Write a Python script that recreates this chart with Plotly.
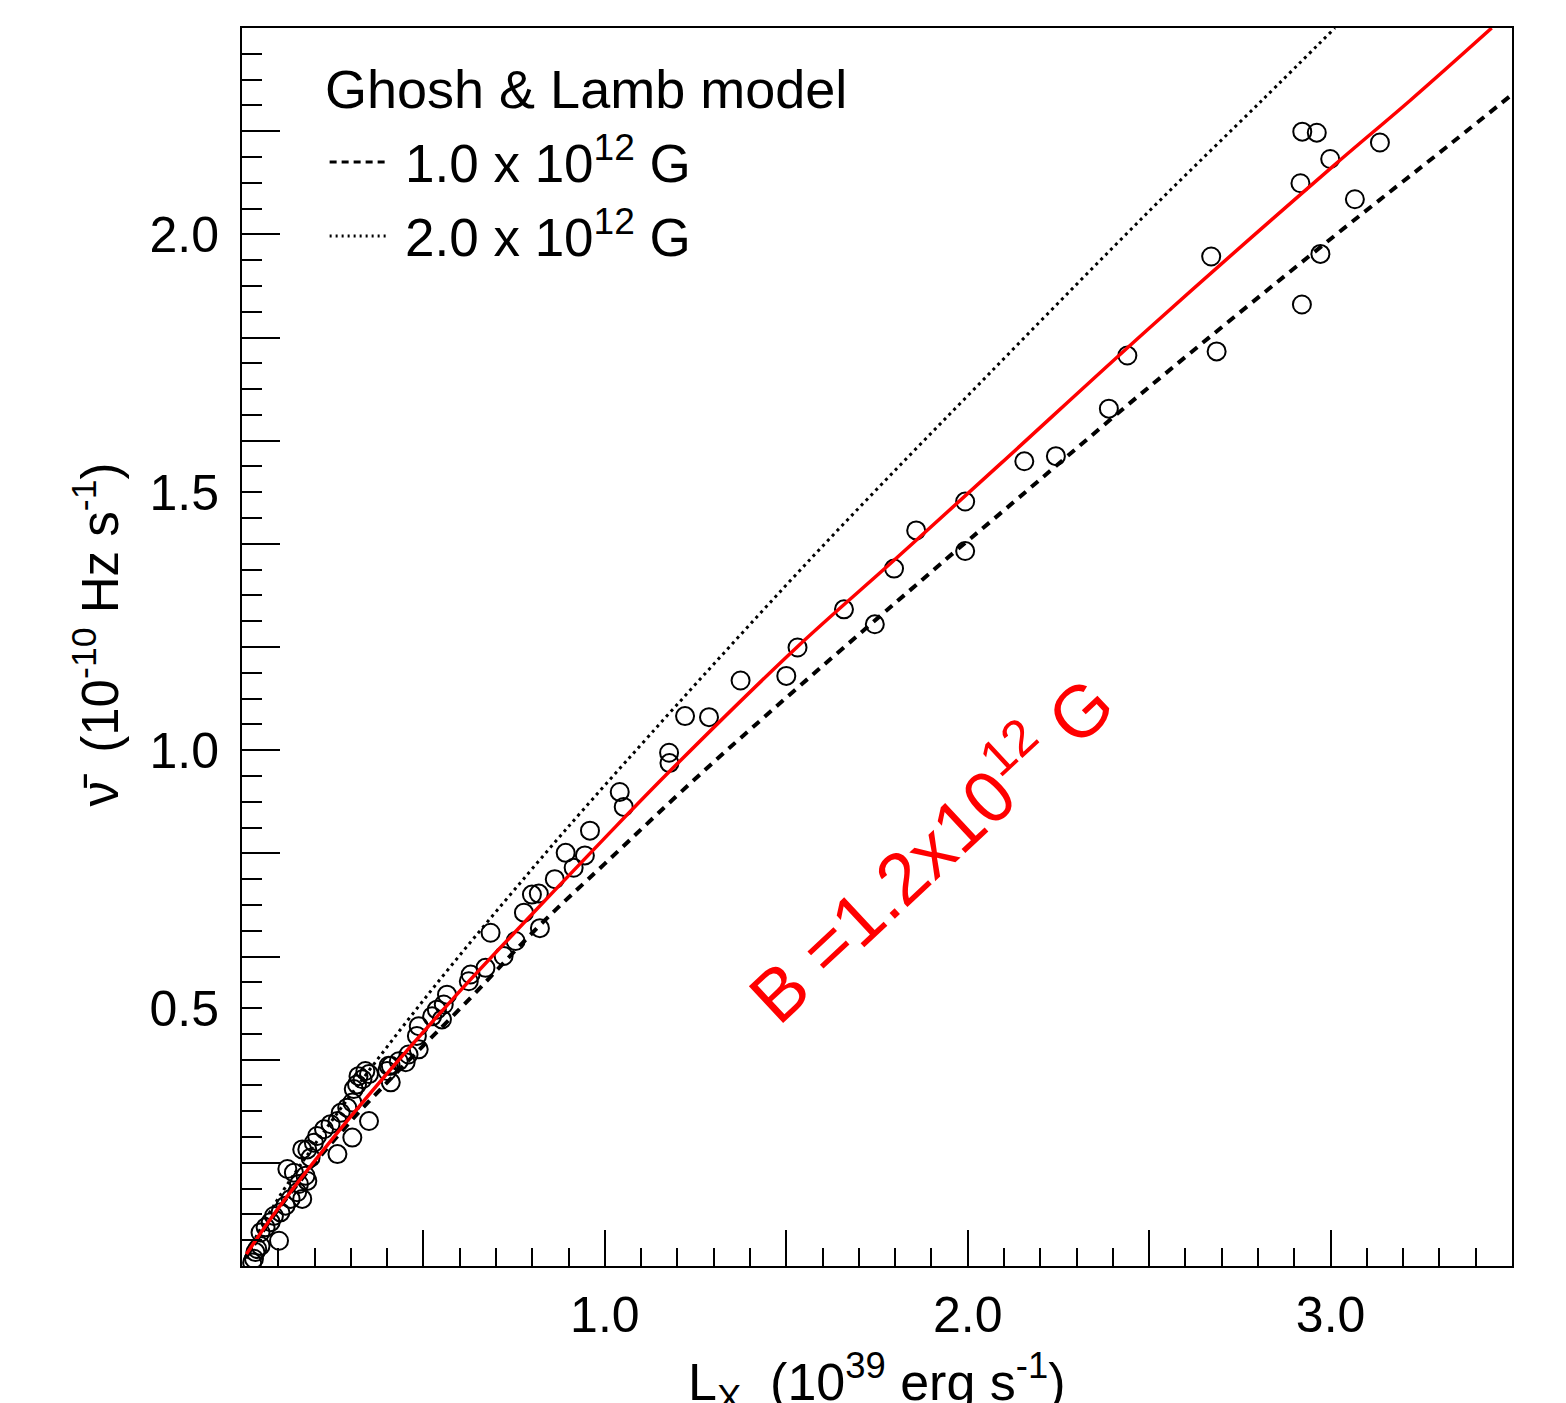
import plotly.graph_objects as go

# ---- data ----
lx = [2.922, 2.962, 2.999, 3.136, 2.917, 3.067, 2.972, 2.921, 2.671, 2.686, 2.440, 2.389, 2.243, 2.156,
      1.993, 1.993, 1.858, 1.797, 1.659, 1.744, 1.531, 1.500, 1.374, 1.221, 1.287, 1.177, 1.178, 1.041,
      1.052, 0.959, 0.892, 0.945, 0.914, 0.862, 0.818, 0.799, 0.821, 0.777, 0.685, 0.754, 0.721, 0.671,
      0.630, 0.625, 0.565, 0.556, 0.537, 0.524, 0.551, 0.487, 0.482, 0.487, 0.459, 0.432, 0.404, 0.340,
      0.321, 0.451, 0.410, 0.400, 0.410, 0.350, 0.332, 0.317, 0.308, 0.350, 0.304, 0.290, 0.272, 0.304,
      0.263, 0.244, 0.226, 0.207, 0.198, 0.263, 0.180, 0.189, 0.166, 0.125, 0.143, 0.175, 0.180, 0.157,
      0.152, 0.166, 0.134, 0.120, 0.106, 0.088, 0.079, 0.102, 0.065, 0.051, 0.051, 0.037, 0.033, 0.028,
      0.042]
nudot = [2.199, 2.197, 2.146, 2.178, 2.099, 2.068, 1.962, 1.864, 1.957, 1.773, 1.765, 1.662, 1.570, 1.560,
         1.482, 1.386, 1.426, 1.352, 1.273, 1.244, 1.199, 1.144, 1.135, 1.066, 1.064, 0.995, 0.975, 0.919,
         0.890, 0.844, 0.801, 0.796, 0.772, 0.750, 0.722, 0.720, 0.655, 0.685, 0.646, 0.630, 0.601, 0.578,
         0.565, 0.552, 0.526, 0.507, 0.497, 0.484, 0.478, 0.465, 0.446, 0.420, 0.410, 0.397, 0.388, 0.378,
         0.368, 0.395, 0.388, 0.378, 0.356, 0.372, 0.362, 0.352, 0.343, 0.281, 0.317, 0.307, 0.297, 0.249,
         0.281, 0.275, 0.265, 0.252, 0.239, 0.217, 0.226, 0.210, 0.226, 0.188, 0.181, 0.175, 0.165, 0.159,
         0.143, 0.130, 0.130, 0.117, 0.104, 0.097, 0.085, 0.049, 0.075, 0.065, 0.039, 0.027, 0.014, 0.007,
         0.033]

# best-fit curve, B = 1.2e12 G (red)
fit_x = [0.012, 0.10, 0.30, 0.58, 0.79, 1.00, 1.18, 1.53, 1.80, 2.09, 2.50, 3.00, 3.22, 3.444]
fit_y = [0.023, 0.112, 0.290, 0.517, 0.675, 0.830, 0.960, 1.200, 1.370, 1.555, 1.818, 2.128, 2.260, 2.400]

# Ghosh & Lamb, 1.0e12 G (dashed)
gl1_x = [0.010, 0.10, 0.30, 0.63, 0.82, 1.00, 1.30, 1.94, 2.10, 2.50, 3.00, 3.33, 3.50]
gl1_y = [0.015, 0.110, 0.281, 0.520, 0.660, 0.780, 0.977, 1.370, 1.465, 1.704, 1.991, 2.175, 2.271]

# Ghosh & Lamb, 2.0e12 G (dotted)
gl2_x = [0.010, 0.09, 0.25, 0.51, 0.79, 1.00, 1.57, 2.09, 2.50, 2.81, 3.012]
gl2_y = [0.018, 0.120, 0.284, 0.524, 0.762, 0.932, 1.373, 1.752, 2.045, 2.259, 2.400]

x_major = [0.5, 1.0, 1.5, 2.0, 2.5, 3.0]
x_labels = ["", "1.0", "", "2.0", "", "3.0"]
y_label_vals = [0.5, 1.0, 1.5, 2.0]
y_labels = ["0.5", "1.0", "1.5", "2.0"]
y_long = [0.2, 0.4, 0.6, 0.8, 1.0, 1.2, 1.4, 1.6, 1.8, 2.0, 2.2]

FONT = "Liberation Sans"

fig = go.Figure()
fig.add_trace(go.Scatter(x=lx, y=nudot, mode="markers",
                         marker=dict(symbol="circle-open", size=18, color="black",
                                     line=dict(width=2, color="black")),
                         showlegend=False, hoverinfo="skip"))
fig.add_trace(go.Scatter(x=gl2_x, y=gl2_y, mode="lines", line_shape="spline",
                         line=dict(color="black", width=3, dash="3px,4px"), showlegend=False))
fig.add_trace(go.Scatter(x=gl1_x, y=gl1_y, mode="lines", line_shape="spline",
                         line=dict(color="black", width=4, dash="9px,7px"), showlegend=False))
fig.add_trace(go.Scatter(x=fit_x, y=fit_y, mode="lines", line_shape="spline",
                         line=dict(color="#ff0000", width=3.5), showlegend=False))
# helper trace so the long-tick overlay axis is drawn
fig.add_trace(go.Scatter(x=[0], y=[0], yaxis="y2", mode="markers",
                         marker=dict(opacity=0), showlegend=False, hoverinfo="skip"))

fig.update_layout(
    width=1566, height=1403,
    margin=dict(l=242, r=54, t=28, b=137),
    paper_bgcolor="white", plot_bgcolor="white",
    font=dict(family=FONT, color="black", size=50),
    xaxis=dict(range=[0, 3.5], tickmode="array", tickvals=x_major, ticktext=x_labels,
               ticks="inside", ticklen=36, tickwidth=2, tickcolor="black",
               minor=dict(ticks="inside", dtick=0.1, tick0=0, ticklen=18, tickwidth=2, tickcolor="black"),
               showgrid=False, zeroline=False, showline=True, linewidth=2, linecolor="black",
               mirror=True, tickfont=dict(size=50, family=FONT), ticklabelstandoff=4),
    yaxis=dict(range=[0, 2.4], tickmode="array", tickvals=y_label_vals, ticktext=y_labels,
               ticks="inside", ticklen=20, tickwidth=2, tickcolor="black",
               minor=dict(ticks="inside", dtick=0.05, tick0=0, ticklen=20, tickwidth=2, tickcolor="black"),
               showgrid=False, zeroline=False, showline=True, linewidth=2, linecolor="black",
               mirror=True, tickfont=dict(size=50, family=FONT), ticklabelstandoff=11),
    yaxis2=dict(range=[0, 2.4], overlaying="y", side="left", tickmode="array", tickvals=y_long,
                ticks="inside", ticklen=38, tickwidth=2, tickcolor="black",
                showticklabels=False, showgrid=False, zeroline=False, showline=False),
)

ann = []
# axis titles
ann.append(dict(xref="paper", yref="paper", x=0.5, y=-0.094, xanchor="center", yanchor="middle",
                text="L<sub>X</sub>  (10<sup>39</sup> erg s<sup>-1</sup>)", showarrow=False,
                font=dict(size=52, family=FONT)))
ann.append(dict(xref="paper", yref="paper", x=-0.115, y=0.51, xanchor="center", yanchor="middle",
                text="ν̄  (10<sup>-10</sup> Hz s<sup>-1</sup>)", textangle=-90, showarrow=False,
                font=dict(size=51, family=FONT)))
# legend
ann.append(dict(xref="paper", yref="paper", x=0.064, y=0.951, xanchor="left", yanchor="middle",
                text="Ghosh &amp; Lamb model", showarrow=False, font=dict(size=54, family=FONT)))
ann.append(dict(xref="paper", yref="paper", x=0.127, y=0.894, xanchor="left", yanchor="middle",
                text="1.0 x 10<sup>12</sup> G", showarrow=False, font=dict(size=53, family=FONT)))
ann.append(dict(xref="paper", yref="paper", x=0.127, y=0.834, xanchor="left", yanchor="middle",
                text="2.0 x 10<sup>12</sup> G", showarrow=False, font=dict(size=53, family=FONT)))
# red label
ann.append(dict(xref="x", yref="y", x=1.89, y=0.815, xanchor="center", yanchor="middle",
                text="B =1.2x10<sup>12</sup> G", textangle=-43, showarrow=False,
                font=dict(size=73, family=FONT, color="#ff0000")))
fig.update_layout(annotations=ann)

fig.update_layout(shapes=[
    dict(type="line", xref="paper", yref="paper", x0=0.069, x1=0.114, y0=0.8918, y1=0.8918,
         line=dict(color="black", width=3, dash="7px,5px")),
    dict(type="line", xref="paper", yref="paper", x0=0.069, x1=0.114, y0=0.832, y1=0.832,
         line=dict(color="black", width=3, dash="2px,4px")),
])

fig.write_html("out.html")
